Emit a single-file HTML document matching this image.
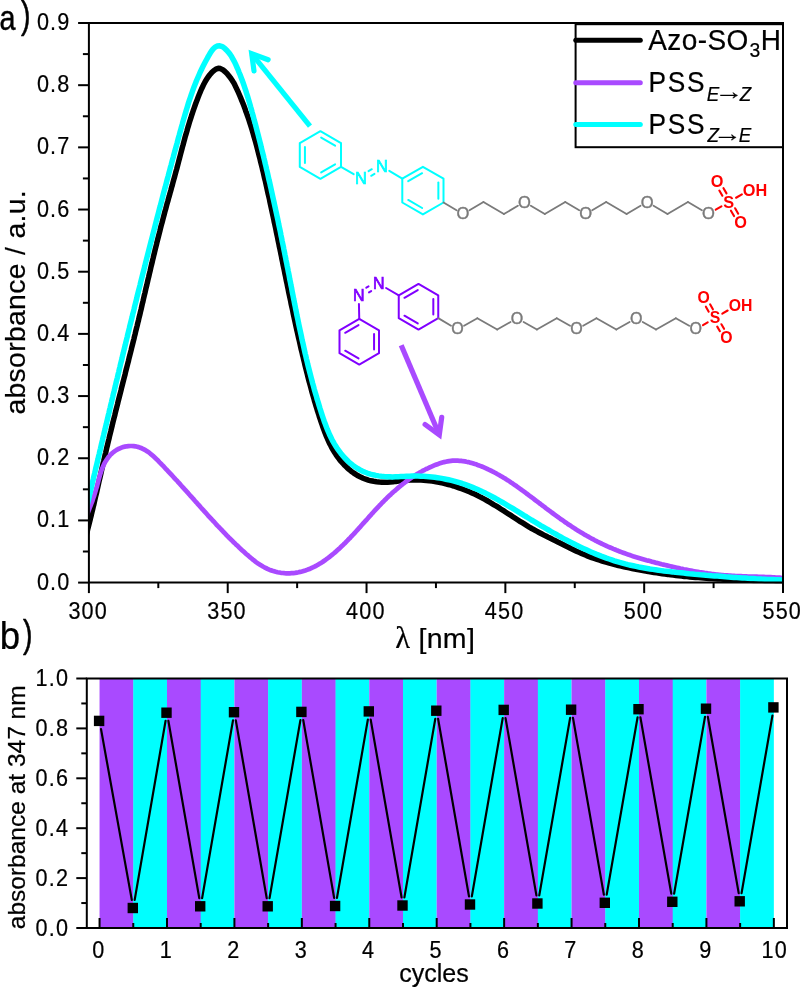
<!DOCTYPE html>
<html><head><meta charset="utf-8"><title>Azo-SO3H absorbance</title>
<style>html,body{margin:0;padding:0;background:#fff}svg{display:block}text{font-family:"Liberation Sans", sans-serif}#plotA>text,#plotB>text{stroke:#000;stroke-width:.22px}</style></head><body>
<svg width="800" height="989" viewBox="0 0 800 989">
<rect width="800" height="989" fill="#fff"/>
<g id="plotA">
<clipPath id="clipA"><rect x="88.9" y="23.0" width="694.1" height="560.6"/></clipPath>
<g clip-path="url(#clipA)" fill="none" stroke-linejoin="round">
<path d="M84.4,542.0 L85.1,539.3 L85.8,536.6 L86.6,533.9 L87.3,531.2 L87.9,528.5 L88.6,525.8 L89.3,523.1 L90.0,520.4 L90.6,517.7 L91.3,515.0 L91.9,512.3 L92.6,509.6 L93.2,506.9 L93.9,504.2 L94.5,501.5 L95.1,498.7 L95.7,496.0 L96.4,493.3 L97.0,490.6 L97.6,487.9 L98.2,485.2 L98.8,482.5 L99.4,479.7 L100.1,477.0 L100.7,474.3 L101.3,471.6 L101.9,468.9 L102.5,466.2 L103.1,463.4 L103.8,460.7 L104.4,458.0 L105.0,455.3 L105.7,452.6 L106.3,449.9 L106.9,447.2 L107.6,444.5 L108.2,441.8 L108.9,439.1 L109.5,436.4 L110.2,433.6 L110.9,430.9 L111.5,428.2 L112.2,425.5 L112.8,422.8 L113.5,420.1 L114.2,417.4 L114.9,414.7 L115.5,412.0 L116.2,409.3 L116.9,406.6 L117.6,403.9 L118.2,401.2 L118.9,398.5 L119.6,395.8 L120.3,393.1 L121.0,390.4 L121.6,387.7 L122.3,385.0 L123.0,382.3 L123.7,379.6 L124.4,376.9 L125.1,374.2 L125.7,371.5 L126.4,368.8 L127.1,366.1 L127.8,363.4 L128.5,360.7 L129.1,358.0 L129.8,355.3 L130.5,352.6 L131.2,349.9 L131.8,347.2 L132.5,344.5 L133.2,341.8 L133.9,339.1 L134.5,336.4 L135.2,333.7 L135.8,331.0 L136.5,328.3 L137.2,325.6 L137.8,322.9 L138.5,320.2 L139.1,317.5 L139.8,314.8 L140.4,312.1 L141.1,309.4 L141.7,306.7 L142.3,303.9 L143.0,301.2 L143.6,298.5 L144.2,295.8 L144.9,293.1 L145.5,290.4 L146.1,287.7 L146.8,285.0 L147.4,282.3 L148.0,279.6 L148.7,276.9 L149.3,274.1 L150.0,271.4 L150.6,268.7 L151.2,266.0 L151.9,263.3 L152.5,260.6 L153.2,257.9 L153.8,255.2 L154.5,252.5 L155.1,249.8 L155.8,247.1 L156.5,244.4 L157.1,241.7 L157.8,239.0 L158.5,236.3 L159.2,233.6 L159.9,230.9 L160.5,228.2 L161.2,225.5 L162.0,222.8 L162.7,220.1 L163.4,217.4 L164.1,214.7 L164.8,212.0 L165.6,209.3 L166.3,206.6 L167.0,203.9 L167.8,201.2 L168.5,198.5 L169.3,195.9 L170.0,193.2 L170.8,190.5 L171.5,187.8 L172.3,185.1 L173.0,182.4 L173.7,179.7 L174.5,177.1 L175.2,174.4 L175.9,171.7 L176.7,169.0 L177.4,166.3 L178.1,163.6 L178.8,160.9 L179.5,158.2 L180.2,155.6 L180.9,152.9 L181.6,150.2 L182.3,147.5 L183.1,144.8 L183.8,142.1 L184.5,139.5 L185.2,136.8 L186.0,134.1 L186.8,131.5 L187.5,128.8 L188.3,126.1 L189.1,123.5 L189.9,120.8 L190.8,118.2 L191.6,115.5 L192.5,112.9 L193.4,110.2 L194.3,107.6 L195.2,105.0 L196.2,102.3 L197.2,99.7 L198.2,97.1 L199.2,94.5 L200.3,91.9 L201.4,89.3 L202.6,86.8 L203.8,84.2 L205.1,81.7 L206.6,79.3 L208.1,77.0 L209.8,74.8 L211.7,72.6 L213.7,70.7 L215.9,69.1 L218.2,68.3 L220.5,68.6 L222.7,69.7 L224.9,71.5 L227.0,73.5 L228.8,75.7 L230.5,77.9 L232.1,80.2 L233.6,82.6 L234.9,85.1 L236.1,87.6 L237.3,90.1 L238.5,92.7 L239.6,95.3 L240.7,97.8 L241.7,100.4 L242.8,103.0 L243.8,105.6 L244.8,108.2 L245.7,110.9 L246.7,113.5 L247.6,116.1 L248.5,118.7 L249.4,121.4 L250.2,124.0 L251.1,126.7 L251.9,129.3 L252.7,132.0 L253.5,134.7 L254.2,137.3 L255.0,140.0 L255.8,142.7 L256.5,145.4 L257.2,148.1 L257.9,150.8 L258.6,153.5 L259.3,156.2 L260.0,158.9 L260.6,161.6 L261.3,164.3 L262.0,167.0 L262.6,169.7 L263.3,172.4 L263.9,175.1 L264.5,177.8 L265.2,180.5 L265.8,183.2 L266.4,185.9 L267.0,188.7 L267.6,191.4 L268.2,194.1 L268.9,196.8 L269.5,199.5 L270.0,202.2 L270.6,205.0 L271.2,207.7 L271.8,210.4 L272.4,213.1 L273.0,215.8 L273.6,218.6 L274.1,221.3 L274.7,224.0 L275.3,226.7 L275.9,229.5 L276.4,232.2 L277.0,234.9 L277.6,237.6 L278.1,240.4 L278.7,243.1 L279.2,245.8 L279.8,248.5 L280.4,251.3 L280.9,254.0 L281.5,256.7 L282.0,259.4 L282.6,262.2 L283.1,264.9 L283.7,267.6 L284.3,270.4 L284.8,273.1 L285.4,275.8 L285.9,278.5 L286.5,281.3 L287.1,284.0 L287.6,286.7 L288.2,289.4 L288.7,292.2 L289.3,294.9 L289.9,297.6 L290.5,300.3 L291.0,303.1 L291.6,305.8 L292.2,308.5 L292.8,311.2 L293.3,314.0 L293.9,316.7 L294.5,319.4 L295.1,322.1 L295.7,324.9 L296.3,327.6 L296.9,330.3 L297.5,333.0 L298.1,335.7 L298.7,338.4 L299.4,341.2 L300.0,343.9 L300.6,346.6 L301.2,349.3 L301.9,352.0 L302.5,354.7 L303.2,357.4 L303.8,360.1 L304.5,362.8 L305.1,365.6 L305.8,368.3 L306.5,371.0 L307.2,373.7 L307.8,376.4 L308.5,379.1 L309.2,381.8 L310.0,384.5 L310.7,387.1 L311.4,389.8 L312.1,392.5 L312.9,395.2 L313.7,397.9 L314.4,400.6 L315.2,403.2 L316.0,405.9 L316.8,408.5 L317.6,411.2 L318.5,413.8 L319.3,416.5 L320.2,419.1 L321.1,421.8 L322.0,424.4 L322.9,427.0 L323.8,429.6 L324.8,432.2 L325.8,434.8 L326.9,437.3 L328.0,439.9 L329.1,442.4 L330.4,444.9 L331.6,447.4 L333.0,449.8 L334.5,452.2 L336.0,454.6 L337.6,456.9 L339.3,459.2 L341.1,461.4 L343.0,463.5 L344.9,465.6 L347.0,467.6 L349.0,469.4 L351.2,471.2 L353.5,472.9 L355.8,474.4 L358.1,475.8 L360.6,477.1 L363.1,478.2 L365.7,479.2 L368.3,480.1 L371.0,480.8 L373.7,481.3 L376.5,481.7 L379.2,482.0 L382.0,482.2 L384.8,482.3 L387.6,482.2 L390.4,482.0 L393.2,481.8 L395.9,481.4 L398.7,481.1 L401.5,480.8 L404.2,480.5 L407.0,480.2 L409.8,480.1 L412.6,480.0 L415.4,479.9 L418.2,480.0 L421.0,480.1 L423.7,480.2 L426.5,480.5 L429.3,480.8 L432.1,481.1 L434.8,481.5 L437.6,482.0 L440.3,482.5 L443.0,483.1 L445.7,483.8 L448.4,484.5 L451.1,485.2 L453.7,486.0 L456.4,486.9 L459.0,487.8 L461.6,488.7 L464.2,489.7 L466.8,490.7 L469.4,491.8 L471.9,492.9 L474.5,494.1 L477.0,495.3 L479.5,496.6 L481.9,497.8 L484.4,499.2 L486.8,500.5 L489.2,501.9 L491.6,503.3 L494.0,504.8 L496.4,506.2 L498.8,507.7 L501.1,509.2 L503.5,510.7 L505.8,512.2 L508.1,513.7 L510.5,515.2 L512.8,516.7 L515.2,518.3 L517.5,519.8 L519.9,521.3 L522.2,522.7 L524.6,524.2 L526.9,525.6 L529.3,527.1 L531.7,528.5 L534.2,529.8 L536.6,531.2 L539.0,532.5 L541.5,533.8 L544.0,535.1 L546.4,536.3 L548.9,537.6 L551.4,538.8 L553.9,540.1 L556.4,541.3 L558.9,542.6 L561.4,543.8 L563.9,545.0 L566.4,546.3 L568.9,547.5 L571.4,548.8 L573.9,550.0 L576.4,551.2 L579.0,552.3 L581.5,553.4 L584.1,554.5 L586.6,555.6 L589.2,556.6 L591.8,557.6 L594.4,558.5 L597.1,559.4 L599.7,560.2 L602.3,561.1 L605.0,561.9 L607.7,562.6 L610.4,563.4 L613.1,564.1 L615.8,564.8 L618.5,565.5 L621.2,566.1 L623.9,566.7 L626.6,567.3 L629.3,567.9 L632.1,568.5 L634.8,569.1 L637.5,569.6 L640.3,570.1 L643.0,570.6 L645.8,571.1 L648.5,571.6 L651.3,572.0 L654.0,572.5 L656.8,572.9 L659.5,573.3 L662.3,573.7 L665.0,574.1 L667.8,574.4 L670.5,574.8 L673.3,575.1 L676.1,575.5 L678.8,575.8 L681.6,576.1 L684.3,576.4 L687.1,576.6 L689.9,576.9 L692.7,577.2 L695.4,577.4 L698.2,577.6 L701.0,577.8 L703.7,578.0 L706.5,578.2 L709.3,578.4 L712.1,578.6 L714.9,578.8 L717.6,578.9 L720.4,579.1 L723.2,579.2 L726.0,579.4 L728.8,579.5 L731.5,579.6 L734.3,579.8 L737.1,579.9 L739.9,580.0 L742.7,580.1 L745.5,580.2 L748.2,580.2 L751.0,580.3 L753.8,580.4 L756.6,580.5 L759.4,580.5 L762.2,580.6 L764.9,580.7 L767.7,580.7 L770.5,580.8 L773.3,580.8 L776.1,580.9 L778.9,580.9 L781.7,580.9 L784.4,581.0 L787.2,581.0 L790.0,581.1" stroke="#000" stroke-width="5.5"/>
<path d="M84.3,522.0 L84.9,520.3 L85.6,518.6 L86.2,516.9 L86.8,515.3 L87.4,513.7 L88.1,512.0 L88.7,510.4 L89.3,508.8 L89.9,507.2 L90.6,505.6 L91.2,504.0 L91.8,502.4 L92.4,500.8 L92.9,499.1 L93.5,497.5 L94.1,495.9 L94.6,494.2 L95.1,492.6 L95.6,490.9 L96.1,489.2 L96.6,487.5 L97.1,485.8 L97.5,484.1 L98.0,482.3 L98.4,480.6 L98.9,478.9 L99.4,477.2 L99.9,475.4 L100.4,473.7 L101.0,472.0 L101.5,470.4 L102.1,468.7 L102.8,467.1 L103.5,465.5 L104.2,463.9 L105.0,462.4 L105.9,460.9 L106.8,459.5 L107.8,458.1 L108.8,456.7 L109.9,455.4 L111.1,454.2 L112.4,453.0 L113.8,451.9 L115.2,450.9 L116.7,449.9 L118.3,449.0 L119.9,448.3 L121.5,447.6 L123.2,447.0 L124.9,446.6 L126.7,446.3 L128.4,446.1 L130.2,446.0 L131.9,446.0 L133.7,446.1 L135.4,446.3 L137.1,446.7 L138.7,447.1 L140.3,447.7 L141.8,448.3 L143.4,449.1 L144.9,449.9 L146.3,450.7 L147.8,451.7 L149.2,452.7 L150.5,453.8 L151.9,454.9 L153.2,456.1 L154.5,457.3 L155.8,458.5 L157.1,459.7 L158.4,461.0 L159.6,462.3 L160.9,463.6 L162.1,464.9 L163.4,466.2 L164.6,467.5 L165.8,468.8 L167.0,470.0 L168.2,471.3 L169.4,472.6 L170.6,473.9 L171.8,475.2 L173.0,476.5 L174.2,477.8 L175.4,479.1 L176.6,480.3 L177.7,481.6 L178.9,482.9 L180.1,484.2 L181.2,485.5 L182.4,486.8 L183.6,488.1 L184.7,489.4 L185.9,490.7 L187.0,491.9 L188.2,493.2 L189.3,494.5 L190.5,495.8 L191.7,497.1 L192.8,498.4 L194.0,499.7 L195.1,501.0 L196.3,502.3 L197.4,503.6 L198.6,504.9 L199.8,506.2 L200.9,507.5 L202.1,508.8 L203.3,510.1 L204.4,511.4 L205.6,512.7 L206.8,514.0 L207.9,515.3 L209.1,516.6 L210.3,517.9 L211.5,519.2 L212.7,520.5 L213.9,521.7 L215.1,523.0 L216.2,524.3 L217.4,525.6 L218.7,526.9 L219.9,528.2 L221.1,529.4 L222.3,530.7 L223.5,532.0 L224.7,533.2 L225.9,534.5 L227.2,535.8 L228.4,537.0 L229.6,538.3 L230.9,539.5 L232.1,540.7 L233.4,542.0 L234.7,543.2 L235.9,544.4 L237.2,545.6 L238.5,546.8 L239.7,548.0 L241.0,549.2 L242.3,550.4 L243.6,551.6 L244.9,552.8 L246.2,554.0 L247.6,555.1 L248.9,556.3 L250.2,557.4 L251.6,558.5 L252.9,559.6 L254.3,560.7 L255.7,561.8 L257.1,562.8 L258.5,563.8 L260.0,564.7 L261.4,565.6 L262.9,566.5 L264.4,567.3 L266.0,568.1 L267.5,568.9 L269.1,569.6 L270.7,570.2 L272.4,570.8 L274.1,571.3 L275.8,571.8 L277.5,572.2 L279.2,572.5 L280.9,572.8 L282.7,573.0 L284.5,573.2 L286.2,573.3 L288.0,573.3 L289.8,573.3 L291.5,573.2 L293.3,573.1 L295.0,572.9 L296.8,572.6 L298.5,572.3 L300.2,571.9 L301.9,571.5 L303.6,571.0 L305.3,570.5 L307.0,569.9 L308.6,569.3 L310.2,568.7 L311.8,567.9 L313.4,567.2 L315.0,566.4 L316.5,565.6 L318.0,564.7 L319.5,563.8 L321.0,562.9 L322.5,562.0 L323.9,561.0 L325.4,560.0 L326.8,558.9 L328.2,557.9 L329.6,556.8 L331.0,555.7 L332.3,554.6 L333.7,553.5 L335.0,552.4 L336.3,551.2 L337.6,550.0 L338.9,548.9 L340.2,547.7 L341.4,546.5 L342.7,545.3 L343.9,544.1 L345.2,542.9 L346.4,541.6 L347.6,540.4 L348.8,539.1 L350.1,537.9 L351.2,536.6 L352.4,535.3 L353.6,534.1 L354.8,532.8 L356.0,531.5 L357.2,530.2 L358.3,528.9 L359.5,527.6 L360.7,526.3 L361.8,525.0 L363.0,523.7 L364.2,522.4 L365.3,521.1 L366.5,519.8 L367.7,518.5 L368.8,517.2 L370.0,515.9 L371.2,514.6 L372.3,513.3 L373.5,512.0 L374.7,510.7 L375.9,509.4 L377.1,508.1 L378.3,506.8 L379.5,505.5 L380.7,504.3 L381.9,503.0 L383.2,501.8 L384.4,500.5 L385.7,499.3 L386.9,498.0 L388.2,496.8 L389.5,495.6 L390.8,494.4 L392.0,493.2 L393.3,492.0 L394.7,490.9 L396.0,489.7 L397.3,488.6 L398.7,487.4 L400.0,486.3 L401.4,485.2 L402.7,484.1 L404.1,483.1 L405.5,482.0 L406.9,481.0 L408.3,479.9 L409.8,478.9 L411.2,477.9 L412.6,476.9 L414.1,476.0 L415.6,475.0 L417.1,474.1 L418.6,473.2 L420.1,472.3 L421.6,471.5 L423.1,470.6 L424.7,469.8 L426.2,469.0 L427.8,468.3 L429.4,467.5 L431.0,466.8 L432.6,466.1 L434.2,465.4 L435.8,464.8 L437.5,464.2 L439.1,463.6 L440.8,463.1 L442.5,462.6 L444.1,462.1 L445.8,461.7 L447.5,461.4 L449.2,461.1 L451.0,460.9 L452.7,460.7 L454.4,460.6 L456.1,460.6 L457.8,460.7 L459.6,460.8 L461.3,460.9 L463.0,461.2 L464.8,461.4 L466.5,461.8 L468.2,462.1 L470.0,462.6 L471.7,463.0 L473.4,463.5 L475.1,464.1 L476.8,464.6 L478.4,465.3 L480.1,465.9 L481.8,466.5 L483.4,467.2 L485.0,467.9 L486.6,468.6 L488.2,469.4 L489.8,470.1 L491.4,470.9 L492.9,471.7 L494.5,472.5 L496.0,473.3 L497.6,474.2 L499.1,475.0 L500.6,475.9 L502.1,476.8 L503.6,477.7 L505.1,478.6 L506.5,479.5 L508.0,480.4 L509.5,481.4 L510.9,482.4 L512.4,483.3 L513.8,484.3 L515.2,485.3 L516.7,486.3 L518.1,487.3 L519.5,488.3 L520.9,489.3 L522.3,490.4 L523.7,491.4 L525.1,492.4 L526.5,493.5 L527.9,494.5 L529.3,495.6 L530.7,496.6 L532.1,497.7 L533.5,498.7 L534.9,499.8 L536.3,500.9 L537.7,501.9 L539.1,503.0 L540.5,504.0 L541.9,505.1 L543.3,506.2 L544.7,507.2 L546.1,508.3 L547.5,509.3 L548.9,510.4 L550.3,511.4 L551.7,512.5 L553.1,513.5 L554.6,514.6 L556.0,515.6 L557.4,516.6 L558.8,517.7 L560.2,518.7 L561.7,519.7 L563.1,520.7 L564.5,521.7 L566.0,522.7 L567.4,523.7 L568.9,524.7 L570.3,525.6 L571.8,526.6 L573.2,527.6 L574.7,528.5 L576.2,529.5 L577.7,530.4 L579.1,531.3 L580.6,532.2 L582.1,533.1 L583.6,534.0 L585.1,534.9 L586.7,535.8 L588.2,536.6 L589.7,537.5 L591.2,538.3 L592.8,539.1 L594.3,540.0 L595.9,540.8 L597.4,541.6 L599.0,542.3 L600.6,543.1 L602.1,543.9 L603.7,544.6 L605.3,545.3 L606.9,546.1 L608.5,546.8 L610.1,547.5 L611.7,548.2 L613.3,548.9 L614.9,549.5 L616.5,550.2 L618.2,550.8 L619.8,551.5 L621.4,552.1 L623.1,552.7 L624.7,553.3 L626.3,553.9 L628.0,554.5 L629.7,555.0 L631.3,555.6 L633.0,556.2 L634.6,556.7 L636.3,557.2 L638.0,557.7 L639.7,558.2 L641.3,558.7 L643.0,559.2 L644.7,559.7 L646.4,560.2 L648.1,560.6 L649.8,561.1 L651.5,561.6 L653.2,562.0 L654.9,562.4 L656.6,562.9 L658.3,563.3 L660.0,563.7 L661.7,564.2 L663.4,564.6 L665.1,565.0 L666.8,565.4 L668.5,565.8 L670.2,566.2 L671.9,566.6 L673.6,567.0 L675.3,567.4 L677.0,567.7 L678.7,568.1 L680.4,568.5 L682.1,568.8 L683.8,569.2 L685.6,569.5 L687.3,569.9 L689.0,570.2 L690.7,570.5 L692.4,570.9 L694.1,571.2 L695.9,571.5 L697.6,571.8 L699.3,572.1 L701.0,572.3 L702.7,572.6 L704.5,572.9 L706.2,573.1 L707.9,573.4 L709.6,573.6 L711.4,573.9 L713.1,574.1 L714.8,574.3 L716.6,574.5 L718.3,574.7 L720.1,574.8 L721.8,575.0 L723.5,575.2 L725.3,575.3 L727.0,575.4 L728.8,575.6 L730.5,575.7 L732.3,575.8 L734.0,575.9 L735.8,576.0 L737.5,576.1 L739.3,576.1 L741.0,576.2 L742.8,576.3 L744.5,576.3 L746.3,576.4 L748.0,576.5 L749.8,576.5 L751.5,576.6 L753.3,576.6 L755.0,576.7 L756.8,576.7 L758.6,576.8 L760.3,576.8 L762.1,576.9 L763.8,576.9 L765.6,577.0 L767.3,577.1 L769.1,577.1 L770.8,577.2 L772.6,577.3 L774.3,577.4 L776.1,577.5 L777.8,577.6 L779.6,577.7 L781.3,577.9 L783.0,578.0 L784.8,578.1 L786.5,578.3 L788.2,578.5 L790.0,578.7" stroke="#a94aff" stroke-width="4.7"/>
<path d="M84.4,517.0 L85.0,514.3 L85.7,511.5 L86.3,508.8 L87.0,506.0 L87.6,503.3 L88.3,500.6 L88.9,497.8 L89.5,495.1 L90.2,492.4 L90.8,489.6 L91.5,486.9 L92.1,484.2 L92.7,481.4 L93.4,478.7 L94.0,475.9 L94.7,473.2 L95.3,470.5 L95.9,467.7 L96.6,465.0 L97.2,462.3 L97.9,459.5 L98.5,456.8 L99.2,454.1 L99.8,451.3 L100.5,448.6 L101.1,445.9 L101.7,443.1 L102.4,440.4 L103.0,437.7 L103.7,434.9 L104.3,432.2 L105.0,429.5 L105.6,426.7 L106.3,424.0 L106.9,421.3 L107.6,418.5 L108.2,415.8 L108.9,413.1 L109.5,410.3 L110.2,407.6 L110.8,404.9 L111.5,402.1 L112.1,399.4 L112.8,396.7 L113.4,393.9 L114.1,391.2 L114.7,388.5 L115.4,385.8 L116.0,383.0 L116.7,380.3 L117.4,377.6 L118.0,374.8 L118.7,372.1 L119.3,369.4 L120.0,366.6 L120.6,363.9 L121.3,361.2 L122.0,358.5 L122.6,355.7 L123.3,353.0 L123.9,350.3 L124.6,347.5 L125.3,344.8 L125.9,342.1 L126.6,339.4 L127.3,336.6 L127.9,333.9 L128.6,331.2 L129.3,328.4 L129.9,325.7 L130.6,323.0 L131.3,320.3 L132.0,317.5 L132.6,314.8 L133.3,312.1 L134.0,309.4 L134.6,306.6 L135.3,303.9 L136.0,301.2 L136.7,298.5 L137.3,295.7 L138.0,293.0 L138.7,290.3 L139.4,287.6 L140.1,284.8 L140.7,282.1 L141.4,279.4 L142.1,276.7 L142.8,273.9 L143.5,271.2 L144.2,268.5 L144.9,265.8 L145.5,263.1 L146.2,260.3 L146.9,257.6 L147.6,254.9 L148.3,252.2 L149.0,249.4 L149.7,246.7 L150.4,244.0 L151.1,241.3 L151.8,238.6 L152.5,235.8 L153.2,233.1 L153.9,230.4 L154.6,227.7 L155.3,225.0 L156.0,222.2 L156.7,219.5 L157.4,216.8 L158.1,214.1 L158.8,211.4 L159.5,208.6 L160.3,205.9 L161.0,203.2 L161.7,200.5 L162.4,197.8 L163.1,195.0 L163.8,192.3 L164.5,189.6 L165.3,186.9 L166.0,184.2 L166.7,181.5 L167.4,178.7 L168.2,176.0 L168.9,173.3 L169.6,170.6 L170.3,167.9 L171.1,165.2 L171.8,162.4 L172.5,159.7 L173.3,157.0 L174.0,154.3 L174.7,151.6 L175.5,148.9 L176.2,146.2 L177.0,143.4 L177.7,140.7 L178.4,138.0 L179.2,135.3 L179.9,132.6 L180.7,129.9 L181.4,127.2 L182.2,124.4 L182.9,121.7 L183.7,119.0 L184.5,116.3 L185.3,113.6 L186.1,110.9 L186.9,108.2 L187.7,105.6 L188.5,102.9 L189.4,100.2 L190.3,97.6 L191.2,94.9 L192.1,92.3 L193.0,89.7 L194.0,87.1 L195.0,84.5 L196.0,81.9 L197.1,79.3 L198.2,76.8 L199.3,74.2 L200.4,71.7 L201.6,69.2 L202.9,66.6 L204.2,64.1 L205.5,61.6 L206.9,59.0 L208.3,56.4 L209.8,53.8 L211.4,51.2 L213.1,49.0 L215.0,47.2 L217.3,46.1 L219.8,45.8 L222.3,46.6 L224.6,48.2 L226.6,50.2 L228.5,52.3 L230.2,54.5 L231.7,56.8 L233.1,59.3 L234.5,61.8 L235.7,64.4 L236.8,67.0 L238.0,69.6 L239.0,72.2 L240.1,74.8 L241.1,77.5 L242.1,80.1 L243.1,82.8 L244.0,85.4 L244.9,88.1 L245.8,90.7 L246.6,93.4 L247.5,96.1 L248.3,98.8 L249.1,101.5 L249.9,104.2 L250.6,106.8 L251.4,109.5 L252.1,112.2 L252.9,115.0 L253.6,117.7 L254.3,120.4 L255.1,123.1 L255.8,125.8 L256.5,128.5 L257.2,131.2 L257.9,133.9 L258.6,136.6 L259.3,139.4 L260.0,142.1 L260.7,144.8 L261.3,147.5 L262.0,150.3 L262.7,153.0 L263.4,155.7 L264.0,158.4 L264.7,161.2 L265.3,163.9 L266.0,166.6 L266.6,169.4 L267.3,172.1 L267.9,174.8 L268.5,177.6 L269.1,180.3 L269.8,183.0 L270.4,185.8 L271.0,188.5 L271.6,191.3 L272.2,194.0 L272.8,196.8 L273.4,199.5 L274.0,202.2 L274.6,205.0 L275.2,207.7 L275.8,210.5 L276.4,213.2 L277.0,216.0 L277.6,218.7 L278.2,221.5 L278.7,224.2 L279.3,227.0 L279.9,229.7 L280.5,232.5 L281.0,235.3 L281.6,238.0 L282.1,240.8 L282.7,243.5 L283.3,246.3 L283.8,249.0 L284.4,251.8 L284.9,254.5 L285.5,257.3 L286.0,260.1 L286.6,262.8 L287.1,265.6 L287.7,268.3 L288.2,271.1 L288.8,273.8 L289.3,276.6 L289.8,279.4 L290.4,282.1 L290.9,284.9 L291.5,287.6 L292.0,290.4 L292.5,293.2 L293.1,295.9 L293.6,298.7 L294.2,301.4 L294.7,304.2 L295.3,306.9 L295.8,309.7 L296.4,312.4 L296.9,315.2 L297.5,317.9 L298.1,320.7 L298.6,323.4 L299.2,326.2 L299.8,328.9 L300.4,331.7 L301.0,334.4 L301.6,337.2 L302.1,339.9 L302.8,342.7 L303.4,345.4 L304.0,348.1 L304.6,350.9 L305.2,353.6 L305.9,356.3 L306.5,359.1 L307.2,361.8 L307.8,364.5 L308.5,367.2 L309.2,370.0 L309.9,372.7 L310.6,375.4 L311.3,378.1 L312.0,380.8 L312.7,383.5 L313.5,386.2 L314.2,388.9 L315.0,391.7 L315.8,394.4 L316.6,397.0 L317.3,399.7 L318.2,402.4 L319.0,405.1 L319.8,407.8 L320.7,410.5 L321.5,413.2 L322.4,415.8 L323.3,418.5 L324.2,421.2 L325.2,423.8 L326.2,426.4 L327.2,429.1 L328.3,431.6 L329.4,434.2 L330.6,436.7 L331.8,439.2 L333.1,441.7 L334.5,444.1 L336.0,446.5 L337.5,448.9 L339.2,451.2 L340.9,453.4 L342.7,455.6 L344.6,457.8 L346.6,459.8 L348.6,461.8 L350.8,463.6 L353.0,465.4 L355.3,467.0 L357.6,468.5 L360.1,469.9 L362.6,471.2 L365.1,472.3 L367.7,473.3 L370.4,474.1 L373.1,474.8 L375.9,475.4 L378.6,475.9 L381.4,476.3 L384.2,476.6 L387.0,476.7 L389.8,476.8 L392.6,476.9 L395.4,476.8 L398.2,476.7 L401.0,476.6 L403.8,476.5 L406.6,476.3 L409.4,476.2 L412.2,476.1 L415.0,476.1 L417.9,476.1 L420.7,476.2 L423.5,476.3 L426.3,476.5 L429.1,476.7 L431.9,477.0 L434.7,477.3 L437.5,477.7 L440.3,478.1 L443.1,478.6 L445.8,479.2 L448.6,479.8 L451.4,480.4 L454.1,481.1 L456.8,481.9 L459.5,482.7 L462.2,483.5 L464.8,484.4 L467.5,485.4 L470.1,486.4 L472.7,487.4 L475.3,488.5 L477.8,489.6 L480.4,490.7 L482.9,491.9 L485.4,493.1 L487.9,494.4 L490.4,495.7 L492.8,497.0 L495.3,498.3 L497.7,499.7 L500.2,501.1 L502.6,502.5 L505.0,503.9 L507.4,505.3 L509.9,506.8 L512.3,508.2 L514.7,509.7 L517.1,511.1 L519.5,512.6 L521.9,514.1 L524.3,515.6 L526.7,517.0 L529.1,518.5 L531.5,520.0 L533.9,521.4 L536.4,522.9 L538.8,524.3 L541.2,525.8 L543.6,527.2 L546.1,528.6 L548.5,530.0 L551.0,531.5 L553.4,532.9 L555.9,534.2 L558.3,535.6 L560.8,537.0 L563.2,538.3 L565.7,539.6 L568.2,541.0 L570.7,542.3 L573.2,543.5 L575.7,544.8 L578.2,546.0 L580.7,547.2 L583.3,548.4 L585.8,549.6 L588.4,550.8 L590.9,551.9 L593.5,553.0 L596.1,554.1 L598.7,555.1 L601.2,556.1 L603.9,557.1 L606.5,558.1 L609.1,559.0 L611.8,559.9 L614.4,560.8 L617.1,561.6 L619.8,562.4 L622.4,563.1 L625.2,563.9 L627.9,564.6 L630.6,565.2 L633.3,565.8 L636.1,566.4 L638.9,567.0 L641.6,567.5 L644.4,568.0 L647.2,568.5 L650.0,569.0 L652.8,569.4 L655.6,569.8 L658.4,570.2 L661.2,570.6 L664.0,571.0 L666.8,571.3 L669.6,571.6 L672.4,571.9 L675.3,572.3 L678.1,572.6 L680.9,572.8 L683.7,573.1 L686.5,573.4 L689.3,573.7 L692.1,573.9 L694.9,574.2 L697.7,574.4 L700.5,574.7 L703.3,574.9 L706.1,575.2 L708.9,575.4 L711.7,575.7 L714.4,575.9 L717.2,576.1 L720.0,576.3 L722.8,576.5 L725.6,576.8 L728.3,577.0 L731.1,577.2 L733.9,577.4 L736.7,577.6 L739.5,577.7 L742.3,577.9 L745.0,578.1 L747.8,578.3 L750.6,578.4 L753.4,578.6 L756.2,578.8 L759.0,578.9 L761.8,579.1 L764.6,579.2 L767.4,579.4 L770.2,579.5 L773.1,579.6 L775.9,579.7 L778.7,579.8 L781.5,580.0 L784.4,580.1 L787.2,580.2 L790.1,580.3" stroke="#00ffff" stroke-width="5.5"/>
</g>
<g stroke="#000" stroke-width="2" fill="none">
<path d="M88.9,23.0 H783.0 V582.6 H88.9 Z"/>
<line x1="78.1" y1="582.60" x2="88.9" y2="582.60"/>
<line x1="82.9" y1="551.51" x2="88.9" y2="551.51"/>
<line x1="78.1" y1="520.42" x2="88.9" y2="520.42"/>
<line x1="82.9" y1="489.33" x2="88.9" y2="489.33"/>
<line x1="78.1" y1="458.24" x2="88.9" y2="458.24"/>
<line x1="82.9" y1="427.16" x2="88.9" y2="427.16"/>
<line x1="78.1" y1="396.07" x2="88.9" y2="396.07"/>
<line x1="82.9" y1="364.98" x2="88.9" y2="364.98"/>
<line x1="78.1" y1="333.89" x2="88.9" y2="333.89"/>
<line x1="82.9" y1="302.80" x2="88.9" y2="302.80"/>
<line x1="78.1" y1="271.71" x2="88.9" y2="271.71"/>
<line x1="82.9" y1="240.62" x2="88.9" y2="240.62"/>
<line x1="78.1" y1="209.53" x2="88.9" y2="209.53"/>
<line x1="82.9" y1="178.44" x2="88.9" y2="178.44"/>
<line x1="78.1" y1="147.36" x2="88.9" y2="147.36"/>
<line x1="82.9" y1="116.27" x2="88.9" y2="116.27"/>
<line x1="78.1" y1="85.18" x2="88.9" y2="85.18"/>
<line x1="82.9" y1="54.09" x2="88.9" y2="54.09"/>
<line x1="78.1" y1="23.00" x2="88.9" y2="23.00"/>
<line x1="88.90" y1="582.6" x2="88.90" y2="593.1"/>
<line x1="158.31" y1="582.6" x2="158.31" y2="588.1"/>
<line x1="227.72" y1="582.6" x2="227.72" y2="593.1"/>
<line x1="297.13" y1="582.6" x2="297.13" y2="588.1"/>
<line x1="366.54" y1="582.6" x2="366.54" y2="593.1"/>
<line x1="435.95" y1="582.6" x2="435.95" y2="588.1"/>
<line x1="505.36" y1="582.6" x2="505.36" y2="593.1"/>
<line x1="574.77" y1="582.6" x2="574.77" y2="588.1"/>
<line x1="644.18" y1="582.6" x2="644.18" y2="593.1"/>
<line x1="713.59" y1="582.6" x2="713.59" y2="588.1"/>
<line x1="783.00" y1="582.6" x2="783.00" y2="593.1"/>
</g>
<text transform="translate(36.90,589.60) scale(0.900,1)" font-size="24.00px" letter-spacing="1.30" text-anchor="start">0.0</text>
<text transform="translate(36.90,527.42) scale(0.900,1)" font-size="24.00px" letter-spacing="1.30" text-anchor="start">0.1</text>
<text transform="translate(36.90,465.24) scale(0.900,1)" font-size="24.00px" letter-spacing="1.30" text-anchor="start">0.2</text>
<text transform="translate(36.90,403.07) scale(0.900,1)" font-size="24.00px" letter-spacing="1.30" text-anchor="start">0.3</text>
<text transform="translate(36.90,340.89) scale(0.900,1)" font-size="24.00px" letter-spacing="1.30" text-anchor="start">0.4</text>
<text transform="translate(36.90,278.71) scale(0.900,1)" font-size="24.00px" letter-spacing="1.30" text-anchor="start">0.5</text>
<text transform="translate(36.90,216.53) scale(0.900,1)" font-size="24.00px" letter-spacing="1.30" text-anchor="start">0.6</text>
<text transform="translate(36.90,154.36) scale(0.900,1)" font-size="24.00px" letter-spacing="1.30" text-anchor="start">0.7</text>
<text transform="translate(36.90,92.18) scale(0.900,1)" font-size="24.00px" letter-spacing="1.30" text-anchor="start">0.8</text>
<text transform="translate(36.90,30.00) scale(0.900,1)" font-size="24.00px" letter-spacing="1.30" text-anchor="start">0.9</text>
<text transform="translate(68.40,619.30) scale(0.900,1)" font-size="24.00px" letter-spacing="1.30" text-anchor="start">300</text>
<text transform="translate(207.22,619.30) scale(0.900,1)" font-size="24.00px" letter-spacing="1.30" text-anchor="start">350</text>
<text transform="translate(346.04,619.30) scale(0.900,1)" font-size="24.00px" letter-spacing="1.30" text-anchor="start">400</text>
<text transform="translate(484.86,619.30) scale(0.900,1)" font-size="24.00px" letter-spacing="1.30" text-anchor="start">450</text>
<text transform="translate(623.68,619.30) scale(0.900,1)" font-size="24.00px" letter-spacing="1.30" text-anchor="start">500</text>
<text transform="translate(762.50,619.30) scale(0.900,1)" font-size="24.00px" letter-spacing="1.30" text-anchor="start">550</text>
<text transform="translate(25.00,414.60) rotate(-90)" font-size="28.30px" letter-spacing="0.35" text-anchor="start">absorbance / a.u.</text>
<text transform="translate(395.3,648.0)" font-size="28.5px" letter-spacing="0.35"><tspan font-family="'Liberation Serif', serif" font-size="30.5px">λ</tspan><tspan dx="-0.3"> [nm]</tspan></text>
<text transform="translate(-0.50,29.60) scale(0.815,1)" font-size="35.30px" letter-spacing="0.00" text-anchor="start" style="stroke:#000;stroke-width:0.45px;stroke-linejoin:round">a</text>
<text transform="translate(21.00,28.00) scale(0.750,1)" font-size="38.00px" letter-spacing="0.00" text-anchor="start" style="stroke:#000;stroke-width:0.55px;stroke-linejoin:round">)</text>
<text transform="translate(-0.20,648.90) scale(0.950,1)" font-size="38.60px" letter-spacing="0.00" text-anchor="start">b</text>
<text transform="translate(23.00,647.00) scale(0.750,1)" font-size="38.00px" letter-spacing="0.00" text-anchor="start" style="stroke:#000;stroke-width:0.55px;stroke-linejoin:round">)</text>
<rect x="575.6" y="24.2" width="207.4" height="123.0" fill="#fff" stroke="#000" stroke-width="2"/>
<line x1="575.8" y1="40.3" x2="640.3" y2="40.3" stroke="#000" stroke-width="5" stroke-linecap="round"/>
<line x1="575.8" y1="82.7" x2="640.3" y2="82.7" stroke="#a94aff" stroke-width="5" stroke-linecap="round"/>
<line x1="575.8" y1="124.6" x2="640.3" y2="124.6" stroke="#00ffff" stroke-width="5" stroke-linecap="round"/>
<text transform="translate(648.2,50.3) scale(0.965,1)" font-size="29px" letter-spacing="0.45">Azo-SO<tspan font-size="20px" dy="7" dx="0.8">3</tspan><tspan dy="-7">H</tspan></text>
<text transform="translate(648.6,92.0) scale(0.905,1)" font-size="29px" letter-spacing="1.95">PSS</text>
<text transform="translate(706.7,100.9) scale(0.9,1)" font-size="20.8px" font-style="italic">E</text>
<text transform="translate(714.8,99.3) scale(1.26,1)" font-size="23px">→</text>
<text transform="translate(739.7,100.9) scale(0.9,1)" font-size="20.8px" font-style="italic">Z</text>
<text transform="translate(648.6,134.0) scale(0.905,1)" font-size="29px" letter-spacing="1.95">PSS</text>
<text transform="translate(707.4,142.4) scale(0.9,1)" font-size="20.8px" font-style="italic">Z</text>
<text transform="translate(713.3,140.8) scale(1.26,1)" font-size="23px">→</text>
<text transform="translate(738.7,142.4) scale(0.9,1)" font-size="20.8px" font-style="italic">E</text>
<g stroke="#00ffff" stroke-width="5.2" fill="none" stroke-linecap="butt" stroke-linejoin="miter" stroke-miterlimit="10"><line x1="310.0" y1="126.2" x2="251.7" y2="53.7"/><path d="M268.1,59.7 L251.7,53.7 L254.0,71.0" stroke-linecap="round"/></g>
<g stroke="#a94aff" stroke-width="5.2" fill="none" stroke-linecap="butt" stroke-linejoin="miter" stroke-miterlimit="10"><line x1="401.2" y1="345.2" x2="439.3" y2="434.8"/><path d="M425.1,424.5 L439.3,434.8 L441.7,417.4" stroke-linecap="round"/></g>
<g id="molE">
<g stroke="#00ffff" stroke-width="2.0" fill="none" stroke-linecap="round" stroke-linejoin="round"><path d="M320.40,131.20 L341.01,143.10 L341.01,166.90 L320.40,178.80 L299.79,166.90 L299.79,143.10 Z"/><line x1="321.17" y1="137.60" x2="335.09" y2="145.63"/><line x1="335.09" y1="164.37" x2="321.17" y2="172.40"/><line x1="304.94" y1="163.03" x2="304.94" y2="146.97"/><path d="M422.90,166.80 L443.51,178.70 L443.51,202.50 L422.90,214.40 L402.29,202.50 L402.29,178.70 Z"/><line x1="438.36" y1="182.57" x2="438.36" y2="198.63"/><line x1="422.13" y1="208.00" x2="408.21" y2="199.97"/><line x1="408.21" y1="181.23" x2="422.13" y2="173.20"/><line x1="341.01" y1="166.90" x2="353.65" y2="174.23"/><line x1="368.52" y1="171.10" x2="371.80" y2="169.22"/><line x1="371.20" y1="175.78" x2="374.48" y2="173.90"/><line x1="389.28" y1="170.88" x2="402.29" y2="178.70"/></g><text x="361.00" y="184.19" font-size="16.5px" text-anchor="middle" fill="#00ffff" stroke="#00ffff" stroke-width="0.7">N</text><text x="382.00" y="172.19" font-size="16.5px" text-anchor="middle" fill="#00ffff" stroke="#00ffff" stroke-width="0.7">N</text><g stroke="#7a7a7a" stroke-width="1.8" fill="none" stroke-linecap="round" stroke-linejoin="round"><line x1="443.51" y1="202.50" x2="456.54" y2="210.19"/><line x1="469.47" y1="210.20" x2="483.45" y2="202.00"/><line x1="483.45" y1="202.00" x2="503.90" y2="214.00"/><line x1="503.90" y1="214.00" x2="517.88" y2="205.80"/><line x1="530.82" y1="205.80" x2="544.80" y2="214.00"/><line x1="544.80" y1="214.00" x2="565.25" y2="202.00"/><line x1="565.25" y1="202.00" x2="579.23" y2="210.20"/><line x1="592.17" y1="210.20" x2="606.15" y2="202.00"/><line x1="606.15" y1="202.00" x2="626.60" y2="214.00"/><line x1="626.60" y1="214.00" x2="640.58" y2="205.80"/><line x1="653.52" y1="205.80" x2="667.50" y2="214.00"/><line x1="667.50" y1="214.00" x2="687.95" y2="202.00"/><line x1="687.95" y1="202.00" x2="701.93" y2="210.20"/></g><text x="463.00" y="218.69" font-size="16.5px" text-anchor="middle" fill="#7a7a7a" stroke="#7a7a7a" stroke-width="0.4">O</text><text x="524.35" y="208.19" font-size="16.5px" text-anchor="middle" fill="#7a7a7a" stroke="#7a7a7a" stroke-width="0.4">O</text><text x="585.70" y="218.69" font-size="16.5px" text-anchor="middle" fill="#7a7a7a" stroke="#7a7a7a" stroke-width="0.4">O</text><text x="647.05" y="208.19" font-size="16.5px" text-anchor="middle" fill="#7a7a7a" stroke="#7a7a7a" stroke-width="0.4">O</text><text x="708.40" y="218.69" font-size="16.5px" text-anchor="middle" fill="#7a7a7a" stroke="#7a7a7a" stroke-width="0.4">O</text><g stroke="#ff0000" stroke-width="2.1" fill="none" stroke-linecap="round"><line x1="715.72" y1="209.68" x2="721.43" y2="206.32"/><line x1="722.36" y1="195.77" x2="719.34" y2="190.57"/><line x1="726.51" y1="193.36" x2="723.49" y2="188.16"/><line x1="735.11" y1="208.27" x2="738.21" y2="213.67"/><line x1="730.94" y1="210.65" x2="734.04" y2="216.06"/><line x1="736.11" y1="197.74" x2="741.88" y2="194.41"/></g><text x="728.75" y="207.63" font-size="16.3px" text-anchor="middle" fill="#ff0000" stroke="#ff0000" stroke-width="0" font-weight="bold">S</text><text x="717.00" y="187.38" font-size="16.3px" text-anchor="middle" fill="#ff0000" stroke="#ff0000" stroke-width="0" font-weight="bold">O</text><text x="740.50" y="228.13" font-size="16.3px" text-anchor="middle" fill="#ff0000" stroke="#ff0000" stroke-width="0" font-weight="bold">O</text><text x="742.87" y="195.63" font-size="16.3px" text-anchor="start" fill="#ff0000" stroke="#ff0000" stroke-width="0" font-weight="bold">OH</text>
</g>
<g id="molZ">
<g stroke="#8000ff" stroke-width="2.0" fill="none" stroke-linecap="round" stroke-linejoin="round"><path d="M359.25,318.95 L379.00,330.35 L379.00,353.15 L359.25,364.55 L339.50,353.15 L339.50,330.35 Z"/><line x1="374.06" y1="334.06" x2="374.06" y2="349.44"/><line x1="358.51" y1="358.42" x2="345.18" y2="350.73"/><line x1="345.18" y1="332.77" x2="358.51" y2="325.08"/><path d="M418.50,283.95 L438.25,295.35 L438.25,318.15 L418.50,329.55 L398.75,318.15 L398.75,295.35 Z"/><line x1="433.31" y1="299.06" x2="433.31" y2="314.44"/><line x1="417.76" y1="323.42" x2="404.43" y2="315.73"/><line x1="404.43" y1="297.77" x2="417.76" y2="290.08"/><line x1="359.25" y1="318.95" x2="358.94" y2="304.00"/><line x1="366.32" y1="287.65" x2="368.54" y2="286.40"/><line x1="368.96" y1="292.35" x2="371.18" y2="291.10"/><line x1="386.10" y1="288.01" x2="398.75" y2="295.35"/></g><text x="358.75" y="300.52" font-size="16.0px" text-anchor="middle" fill="#8000ff" stroke="#8000ff" stroke-width="0.7">N</text><text x="378.75" y="289.27" font-size="16.0px" text-anchor="middle" fill="#8000ff" stroke="#8000ff" stroke-width="0.7">N</text><g stroke="#7a7a7a" stroke-width="1.8" fill="none" stroke-linecap="round" stroke-linejoin="round"><line x1="438.25" y1="318.15" x2="451.04" y2="325.69"/><line x1="464.03" y1="325.81" x2="477.35" y2="318.30"/><line x1="477.35" y1="318.30" x2="497.20" y2="329.50"/><line x1="497.20" y1="329.50" x2="510.52" y2="321.99"/><line x1="523.58" y1="321.99" x2="536.90" y2="329.50"/><line x1="536.90" y1="329.50" x2="556.75" y2="318.30"/><line x1="556.75" y1="318.30" x2="570.07" y2="325.81"/><line x1="583.13" y1="325.81" x2="596.45" y2="318.30"/><line x1="596.45" y1="318.30" x2="616.30" y2="329.50"/><line x1="616.30" y1="329.50" x2="629.62" y2="321.99"/><line x1="642.68" y1="321.99" x2="656.00" y2="329.50"/><line x1="656.00" y1="329.50" x2="675.85" y2="318.30"/><line x1="675.85" y1="318.30" x2="689.17" y2="325.81"/></g><text x="457.50" y="334.02" font-size="16.0px" text-anchor="middle" fill="#7a7a7a" stroke="#7a7a7a" stroke-width="0.4">O</text><text x="517.05" y="324.32" font-size="16.0px" text-anchor="middle" fill="#7a7a7a" stroke="#7a7a7a" stroke-width="0.4">O</text><text x="576.60" y="334.02" font-size="16.0px" text-anchor="middle" fill="#7a7a7a" stroke="#7a7a7a" stroke-width="0.4">O</text><text x="636.15" y="324.32" font-size="16.0px" text-anchor="middle" fill="#7a7a7a" stroke="#7a7a7a" stroke-width="0.4">O</text><text x="695.70" y="334.02" font-size="16.0px" text-anchor="middle" fill="#7a7a7a" stroke="#7a7a7a" stroke-width="0.4">O</text><g stroke="#ff0000" stroke-width="2.1" fill="none" stroke-linecap="round"><line x1="703.00" y1="325.15" x2="707.70" y2="322.35"/><line x1="708.71" y1="311.67" x2="705.90" y2="306.65"/><line x1="712.90" y1="309.32" x2="710.09" y2="304.31"/><line x1="721.40" y1="324.23" x2="724.05" y2="328.79"/><line x1="717.25" y1="326.64" x2="719.90" y2="331.20"/><line x1="722.31" y1="313.66" x2="727.63" y2="310.49"/></g><text x="715.00" y="323.46" font-size="15.8px" text-anchor="middle" fill="#ff0000" stroke="#ff0000" stroke-width="0" font-weight="bold">S</text><text x="703.70" y="303.26" font-size="15.8px" text-anchor="middle" fill="#ff0000" stroke="#ff0000" stroke-width="0" font-weight="bold">O</text><text x="726.40" y="343.06" font-size="15.8px" text-anchor="middle" fill="#ff0000" stroke="#ff0000" stroke-width="0" font-weight="bold">O</text><text x="728.77" y="311.46" font-size="15.8px" text-anchor="start" fill="#ff0000" stroke="#ff0000" stroke-width="0" font-weight="bold">OH</text>
</g>
</g>
<g id="plotB">
<rect x="99.55" y="678.5" width="34.02" height="249.5" fill="#a94aff"/>
<rect x="133.26" y="678.5" width="33.72" height="249.5" fill="#00ffff"/>
<rect x="166.98" y="678.5" width="34.02" height="249.5" fill="#a94aff"/>
<rect x="200.69" y="678.5" width="33.72" height="249.5" fill="#00ffff"/>
<rect x="234.41" y="678.5" width="34.02" height="249.5" fill="#a94aff"/>
<rect x="268.12" y="678.5" width="33.72" height="249.5" fill="#00ffff"/>
<rect x="301.84" y="678.5" width="34.02" height="249.5" fill="#a94aff"/>
<rect x="335.56" y="678.5" width="33.72" height="249.5" fill="#00ffff"/>
<rect x="369.27" y="678.5" width="34.02" height="249.5" fill="#a94aff"/>
<rect x="402.99" y="678.5" width="33.72" height="249.5" fill="#00ffff"/>
<rect x="436.70" y="678.5" width="34.02" height="249.5" fill="#a94aff"/>
<rect x="470.42" y="678.5" width="33.72" height="249.5" fill="#00ffff"/>
<rect x="504.13" y="678.5" width="34.02" height="249.5" fill="#a94aff"/>
<rect x="537.85" y="678.5" width="33.72" height="249.5" fill="#00ffff"/>
<rect x="571.56" y="678.5" width="34.02" height="249.5" fill="#a94aff"/>
<rect x="605.27" y="678.5" width="33.72" height="249.5" fill="#00ffff"/>
<rect x="638.99" y="678.5" width="34.02" height="249.5" fill="#a94aff"/>
<rect x="672.71" y="678.5" width="33.72" height="249.5" fill="#00ffff"/>
<rect x="706.42" y="678.5" width="34.02" height="249.5" fill="#a94aff"/>
<rect x="740.13" y="678.5" width="33.72" height="249.5" fill="#00ffff"/>
<g stroke="#000" stroke-width="2.2" stroke-linecap="round"><line x1="101.02" y1="729.08" x2="131.79" y2="899.87"/><line x1="134.68" y1="899.86" x2="165.57" y2="720.86"/><line x1="168.40" y1="720.86" x2="199.27" y2="898.12"/><line x1="202.12" y1="898.12" x2="232.99" y2="720.36"/><line x1="235.83" y1="720.36" x2="266.70" y2="898.12"/><line x1="269.54" y1="898.12" x2="300.42" y2="720.11"/><line x1="303.26" y1="720.11" x2="334.13" y2="897.87"/><line x1="336.97" y1="897.87" x2="367.85" y2="719.61"/><line x1="370.69" y1="719.61" x2="401.56" y2="897.37"/><line x1="404.40" y1="897.37" x2="435.28" y2="718.86"/><line x1="438.12" y1="718.86" x2="468.99" y2="896.37"/><line x1="471.83" y1="896.37" x2="502.71" y2="718.12"/><line x1="505.55" y1="718.11" x2="536.42" y2="895.37"/><line x1="539.27" y1="895.37" x2="570.14" y2="717.86"/><line x1="572.99" y1="717.86" x2="603.85" y2="894.62"/><line x1="606.70" y1="894.62" x2="637.57" y2="717.37"/><line x1="640.42" y1="717.36" x2="671.27" y2="893.63"/><line x1="674.13" y1="893.63" x2="704.99" y2="716.87"/><line x1="707.85" y1="716.87" x2="738.70" y2="893.13"/><line x1="741.56" y1="893.13" x2="772.43" y2="715.62"/></g>
<rect x="93.9" y="715.7" width="10.4" height="10.4" fill="#000"/>
<rect x="127.6" y="902.8" width="10.4" height="10.4" fill="#000"/>
<rect x="161.3" y="707.5" width="10.4" height="10.4" fill="#000"/>
<rect x="195.0" y="901.1" width="10.4" height="10.4" fill="#000"/>
<rect x="228.8" y="707.0" width="10.4" height="10.4" fill="#000"/>
<rect x="262.5" y="901.1" width="10.4" height="10.4" fill="#000"/>
<rect x="296.2" y="706.7" width="10.4" height="10.4" fill="#000"/>
<rect x="329.9" y="900.8" width="10.4" height="10.4" fill="#000"/>
<rect x="363.6" y="706.2" width="10.4" height="10.4" fill="#000"/>
<rect x="397.3" y="900.3" width="10.4" height="10.4" fill="#000"/>
<rect x="431.1" y="705.5" width="10.4" height="10.4" fill="#000"/>
<rect x="464.8" y="899.3" width="10.4" height="10.4" fill="#000"/>
<rect x="498.5" y="704.7" width="10.4" height="10.4" fill="#000"/>
<rect x="532.2" y="898.3" width="10.4" height="10.4" fill="#000"/>
<rect x="565.9" y="704.5" width="10.4" height="10.4" fill="#000"/>
<rect x="599.6" y="897.6" width="10.4" height="10.4" fill="#000"/>
<rect x="633.3" y="704.0" width="10.4" height="10.4" fill="#000"/>
<rect x="667.1" y="896.6" width="10.4" height="10.4" fill="#000"/>
<rect x="700.8" y="703.5" width="10.4" height="10.4" fill="#000"/>
<rect x="734.5" y="896.1" width="10.4" height="10.4" fill="#000"/>
<rect x="768.2" y="702.2" width="10.4" height="10.4" fill="#000"/>
<g stroke="#000" stroke-width="2" fill="none">
<path d="M86.8,678.5 H787.0 V928.0 H86.8 Z"/>
<line x1="76.3" y1="928.00" x2="86.8" y2="928.00"/>
<line x1="81.3" y1="903.05" x2="86.8" y2="903.05"/>
<line x1="76.3" y1="878.10" x2="86.8" y2="878.10"/>
<line x1="81.3" y1="853.15" x2="86.8" y2="853.15"/>
<line x1="76.3" y1="828.20" x2="86.8" y2="828.20"/>
<line x1="81.3" y1="803.25" x2="86.8" y2="803.25"/>
<line x1="76.3" y1="778.30" x2="86.8" y2="778.30"/>
<line x1="81.3" y1="753.35" x2="86.8" y2="753.35"/>
<line x1="76.3" y1="728.40" x2="86.8" y2="728.40"/>
<line x1="81.3" y1="703.45" x2="86.8" y2="703.45"/>
<line x1="76.3" y1="678.50" x2="86.8" y2="678.50"/>
<line x1="99.55" y1="928.0" x2="99.55" y2="918.0"/>
<line x1="133.26" y1="928.0" x2="133.26" y2="923.0"/>
<line x1="166.98" y1="928.0" x2="166.98" y2="918.0"/>
<line x1="200.69" y1="928.0" x2="200.69" y2="923.0"/>
<line x1="234.41" y1="928.0" x2="234.41" y2="918.0"/>
<line x1="268.12" y1="928.0" x2="268.12" y2="923.0"/>
<line x1="301.84" y1="928.0" x2="301.84" y2="918.0"/>
<line x1="335.56" y1="928.0" x2="335.56" y2="923.0"/>
<line x1="369.27" y1="928.0" x2="369.27" y2="918.0"/>
<line x1="402.99" y1="928.0" x2="402.99" y2="923.0"/>
<line x1="436.70" y1="928.0" x2="436.70" y2="918.0"/>
<line x1="470.42" y1="928.0" x2="470.42" y2="923.0"/>
<line x1="504.13" y1="928.0" x2="504.13" y2="918.0"/>
<line x1="537.85" y1="928.0" x2="537.85" y2="923.0"/>
<line x1="571.56" y1="928.0" x2="571.56" y2="918.0"/>
<line x1="605.27" y1="928.0" x2="605.27" y2="923.0"/>
<line x1="638.99" y1="928.0" x2="638.99" y2="918.0"/>
<line x1="672.71" y1="928.0" x2="672.71" y2="923.0"/>
<line x1="706.42" y1="928.0" x2="706.42" y2="918.0"/>
<line x1="740.13" y1="928.0" x2="740.13" y2="923.0"/>
<line x1="773.85" y1="928.0" x2="773.85" y2="918.0"/>
</g>
<text transform="translate(35.60,935.50) scale(0.900,1)" font-size="24.00px" letter-spacing="1.30" text-anchor="start">0.0</text>
<text transform="translate(35.60,885.60) scale(0.900,1)" font-size="24.00px" letter-spacing="1.30" text-anchor="start">0.2</text>
<text transform="translate(35.60,835.70) scale(0.900,1)" font-size="24.00px" letter-spacing="1.30" text-anchor="start">0.4</text>
<text transform="translate(35.60,785.80) scale(0.900,1)" font-size="24.00px" letter-spacing="1.30" text-anchor="start">0.6</text>
<text transform="translate(35.60,735.90) scale(0.900,1)" font-size="24.00px" letter-spacing="1.30" text-anchor="start">0.8</text>
<text transform="translate(35.60,686.00) scale(0.900,1)" font-size="24.00px" letter-spacing="1.30" text-anchor="start">1.0</text>
<text transform="translate(92.35,957.50) scale(0.900,1)" font-size="24.00px" letter-spacing="1.30" text-anchor="start">0</text>
<text transform="translate(159.78,957.50) scale(0.900,1)" font-size="24.00px" letter-spacing="1.30" text-anchor="start">1</text>
<text transform="translate(227.21,957.50) scale(0.900,1)" font-size="24.00px" letter-spacing="1.30" text-anchor="start">2</text>
<text transform="translate(294.64,957.50) scale(0.900,1)" font-size="24.00px" letter-spacing="1.30" text-anchor="start">3</text>
<text transform="translate(362.07,957.50) scale(0.900,1)" font-size="24.00px" letter-spacing="1.30" text-anchor="start">4</text>
<text transform="translate(429.50,957.50) scale(0.900,1)" font-size="24.00px" letter-spacing="1.30" text-anchor="start">5</text>
<text transform="translate(496.93,957.50) scale(0.900,1)" font-size="24.00px" letter-spacing="1.30" text-anchor="start">6</text>
<text transform="translate(564.36,957.50) scale(0.900,1)" font-size="24.00px" letter-spacing="1.30" text-anchor="start">7</text>
<text transform="translate(631.79,957.50) scale(0.900,1)" font-size="24.00px" letter-spacing="1.30" text-anchor="start">8</text>
<text transform="translate(699.22,957.50) scale(0.900,1)" font-size="24.00px" letter-spacing="1.30" text-anchor="start">9</text>
<text transform="translate(761.55,957.50) scale(0.900,1)" font-size="24.00px" letter-spacing="1.30" text-anchor="start">10</text>
<text transform="translate(25.10,929.20) rotate(-90)" font-size="24.50px" letter-spacing="0.00" text-anchor="start">absorbance at 347 nm</text>
<text x="434" y="982" font-size="25px" text-anchor="middle">cycles</text>
</g>
</svg></body></html>
